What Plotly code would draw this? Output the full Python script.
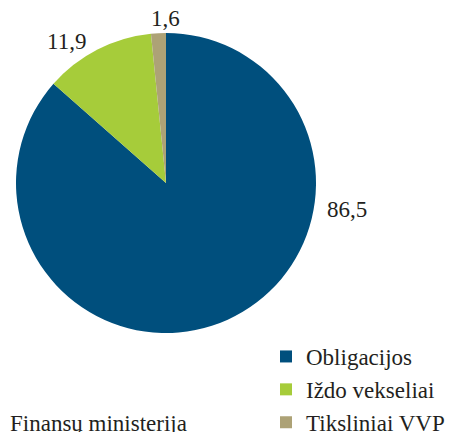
import plotly.graph_objects as go

labels = ["Obligacijos", "Iždo vekseliai", "Tiksliniai VVP"]
values = [86.5, 11.9, 1.6]
value_labels = ["86,5", "11,9", "1,6"]
colors = ["#004f7d", "#a6cc3a", "#ada276"]
source_text = "Finansų ministerija"

# page body has an 8px margin; figure sized to fit the window
OFF = 8
W, H = 453 - OFF, 432 - OFF
FONT = "Liberation Serif"
TXT = "#231f20"
FS = 23

def px(x):
    return (x - OFF) / W

def py(y):
    return 1 - (y - OFF) / H

fig = go.Figure(go.Pie(
    labels=labels,
    values=values,
    marker=dict(colors=colors, line=dict(width=0)),
    sort=False,
    direction="clockwise",
    rotation=0,
    textinfo="none",
    hoverinfo="label+value",
    domain=dict(x=[px(16), px(316)], y=[py(333), py(33)]),
))

label_pos = [(347, 209), (66, 41), (165, 18)]
for t, (x, y) in zip(value_labels, label_pos):
    fig.add_annotation(x=px(x), y=py(y), xref="paper", yref="paper",
                       text=t, showarrow=False, xanchor="center", yanchor="middle",
                       font=dict(family=FONT, size=FS, color=TXT))

fig.add_annotation(x=0, y=py(423), xref="paper", yref="paper",
                   text=source_text, showarrow=False,
                   xanchor="left", yanchor="middle",
                   font=dict(family=FONT, size=FS, color=TXT))

fig.update_layout(
    width=W, height=H,
    margin=dict(l=0, r=0, t=0, b=0, autoexpand=False),
    paper_bgcolor="white", plot_bgcolor="white",
    showlegend=True,
    legend=dict(x=px(266), y=py(335), xanchor="left", yanchor="top",
                font=dict(family=FONT, size=FS, color=TXT),
                tracegroupgap=0, itemwidth=30,
                bgcolor="rgba(0,0,0,0)"),
)

fig.write_html("out.html")
